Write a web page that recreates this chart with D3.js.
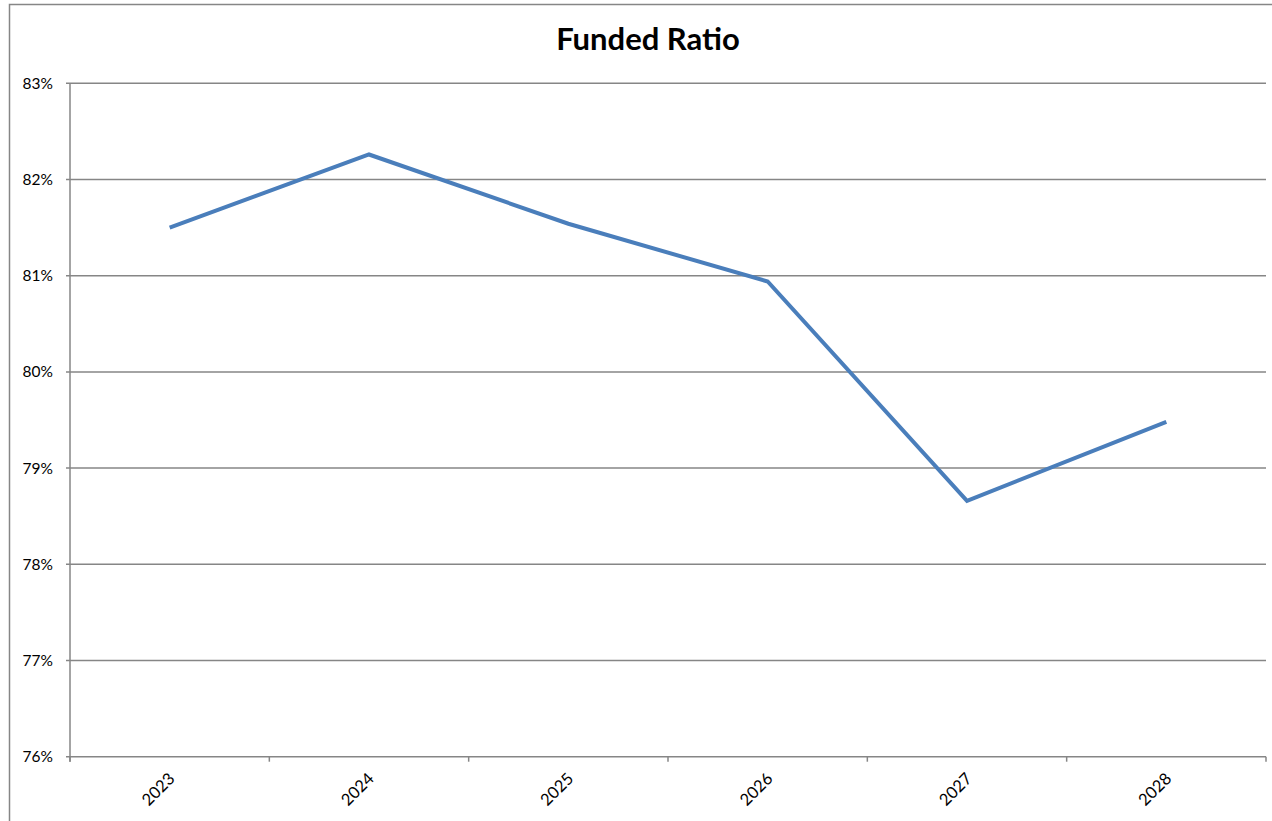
<!DOCTYPE html>
<html><head><meta charset="utf-8">
<script src="https://cdn.jsdelivr.net/npm/d3@7"></script>
<style>body{margin:0;background:#fff;}svg{display:block;}</style>
</head><body>
<script>
const years = ["2023","2024","2025","2026","2027","2028"];
const fundedRatio = [81.50, 82.26, 81.54, 80.94, 78.66, 79.48];
const yTicks = [76,77,78,79,80,81,82,83];
const title = "Funded Ratio";

const W = 1272, H = 821;
const m = {left:70, right:6, top:83.3, bottom:64.3};
const svg = d3.select("body").append("svg").attr("width",W).attr("height",H);
svg.append("rect").attr("x",9.5).attr("y",4.5).attr("width",W+10).attr("height",H+10)
  .attr("fill","#fff").attr("stroke","#868686").attr("stroke-width",1.5);

const x = d3.scaleBand().domain(years).range([m.left, W-m.right]);
const y = d3.scaleLinear().domain([76,83]).range([H-m.bottom, m.top]);
const font = "Lato, 'Open Sans', sans-serif";

// gridlines
svg.append("g").selectAll("line").data(yTicks).join("line")
  .attr("x1",m.left-4).attr("x2",W-m.right).attr("y1",d=>y(d)).attr("y2",d=>y(d))
  .attr("stroke","#868686").attr("stroke-width",1.5);
// y axis line
svg.append("line").attr("x1",m.left).attr("x2",m.left).attr("y1",m.top).attr("y2",H-m.bottom+5)
  .attr("stroke","#868686").attr("stroke-width",1.5);
// y labels
svg.append("g").selectAll("text").data(yTicks).join("text")
  .attr("x",m.left-17).attr("y",d=>y(d)).attr("dy","0.35em").attr("text-anchor","end")
  .attr("font-family",font).attr("font-size",15.5).attr("fill","#000").text(d=>d+"%");
// x ticks
const bounds = years.map(d=>x(d)).concat([W-m.right]);
svg.append("g").selectAll("line").data(bounds).join("line")
  .attr("x1",d=>d).attr("x2",d=>d).attr("y1",y(76)).attr("y2",y(76)+5)
  .attr("stroke","#868686").attr("stroke-width",1.5);
// x labels
svg.append("g").selectAll("text").data(years).join("text")
  .attr("transform",d=>`translate(${x(d)+x.bandwidth()/2+2},${y(76)+19}) rotate(-45)`)
  .attr("text-anchor","end").attr("dy","0.35em")
  .attr("font-family",font).attr("font-size",16.5).attr("fill","#000").text(d=>d);
// line
const line = d3.line().x((d,i)=>x(years[i])+x.bandwidth()/2).y(d=>y(d));
svg.append("path").datum(fundedRatio).attr("d",line).attr("fill","none")
  .attr("stroke","#4a7ebb").attr("stroke-width",4).attr("stroke-linejoin","miter");
// title
svg.append("text").attr("x",648).attr("y",50).attr("text-anchor","middle")
  .attr("font-family",font).attr("font-weight","bold").attr("font-size",31).attr("fill","#000").text(title);
</script>
</body></html>
